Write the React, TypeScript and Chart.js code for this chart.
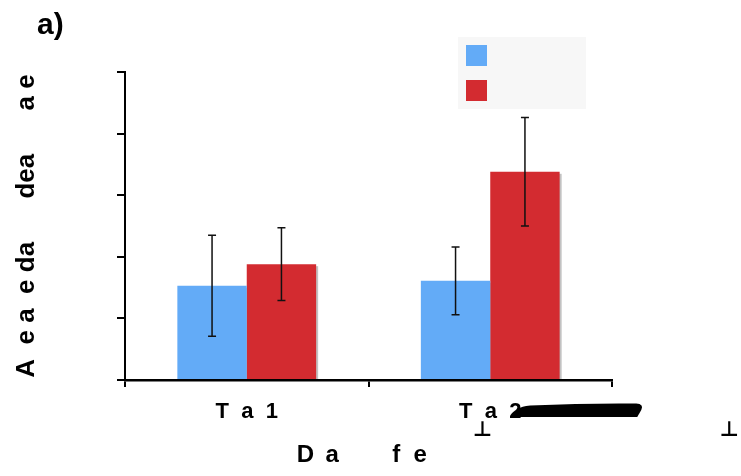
import React, { useEffect, useRef } from "react";
import { Chart, registerables } from "chart.js";

Chart.register(...registerables);

const categories = ["T  a  1", "T  a  2"];
const seriesNames = ["Series A", "Series B"];
const seriesA = [1.53, 1.61];
const seriesB = [1.88, 3.38];
const errorsA = [0.82, 0.55];
const errorsB = [0.59, 0.88];
const yTicks = [0, 1, 2, 3, 4, 5];
const panelLabel = "a)";
const yTitle = "A  e a  e da      dea      a e";
const xTitle = "D\u2009 a        f  e  ";
const strayMarks = ["⊥", "⊥"];

const BLUE = "#63abf7";
const RED = "#d32b30";
const FONT = "'Liberation Sans', Arial, sans-serif";

const decorPlugin = {
  id: "decor",
  beforeDatasetsDraw(chart: any) {
    const ctx = chart.ctx;
    ctx.save();
    ctx.fillStyle = "#c2c2c2";
    chart.data.datasets.forEach((_: any, di: number) => {
      const meta = chart.getDatasetMeta(di);
      meta.data.forEach((el: any) => {
        const w = el.width;
        const left = el.x - w / 2;
        const top = Math.min(el.y, el.base);
        const h = Math.abs(el.base - el.y);
        ctx.fillRect(left + 2, top + 2, w, h - 2);
      });
    });
    ctx.restore();
  },
  afterDatasetsDraw(chart: any) {
    const ctx = chart.ctx;
    const y = chart.scales.y;
    const errs = [errorsA, errorsB];
    ctx.save();
    ctx.strokeStyle = "#111";
    ctx.lineWidth = 1.5;
    chart.data.datasets.forEach((ds: any, di: number) => {
      const meta = chart.getDatasetMeta(di);
      meta.data.forEach((el: any, i: number) => {
        const v = ds.data[i];
        const e = errs[di][i];
        const yt = y.getPixelForValue(v + e);
        const yb = y.getPixelForValue(v - e);
        const x = el.x;
        ctx.beginPath();
        ctx.moveTo(x, yt);
        ctx.lineTo(x, yb);
        ctx.moveTo(x - 4, yt);
        ctx.lineTo(x + 4, yt);
        ctx.moveTo(x - 4, yb);
        ctx.lineTo(x + 4, yb);
        ctx.stroke();
      });
    });
    ctx.restore();
  },
  afterDraw(chart: any) {
    const ctx = chart.ctx;
    const area = chart.chartArea;
    const xs = chart.scales.x;
    ctx.save();
    // panel label
    ctx.fillStyle = "#000";
    ctx.font = `bold 30px ${FONT}`;
    ctx.textBaseline = "alphabetic";
    ctx.textAlign = "left";
    ctx.fillText(panelLabel, 37, 34);

    // legend box
    const lx = area.right - 154;
    const ly = area.top - 35;
    ctx.fillStyle = "#f7f7f7";
    ctx.fillRect(lx, ly, 128, 72);
    chart.data.datasets.forEach((ds: any, i: number) => {
      ctx.fillStyle = ds.backgroundColor;
      ctx.fillRect(lx + 8, ly + 8 + i * 35, 21, 21);
    });

    // stray artefacts below second category label
    const c2 = xs.getPixelForValue(1);
    ctx.fillStyle = "#000";
    ctx.beginPath();
    ctx.moveTo(c2 + 21, area.bottom + 37);
    ctx.lineTo(c2 + 28, area.bottom + 29);
    ctx.quadraticCurveTo(c2 + 31, area.bottom + 26, c2 + 40, area.bottom + 25.5);
    ctx.quadraticCurveTo(c2 + 95, area.bottom + 23, c2 + 146, area.bottom + 23.5);
    ctx.quadraticCurveTo(c2 + 154, area.bottom + 24, c2 + 151, area.bottom + 30);
    ctx.lineTo(c2 + 147, area.bottom + 37);
    ctx.closePath();
    ctx.fill();

    ctx.font = `bold 21px 'DejaVu Sans', sans-serif`;
    ctx.textAlign = "center";
    ctx.textBaseline = "alphabetic";
    ctx.fillText(strayMarks[0], c2 - 8, area.bottom + 56);
    ctx.fillText(strayMarks[1], area.right + 117, area.bottom + 56);
    ctx.restore();
  },
};

export default function App() {
  const ref = useRef<HTMLCanvasElement | null>(null);
  useEffect(() => {
    if (!ref.current) return;
    const chart = new Chart(ref.current, {
      type: "bar",
      data: {
        labels: categories,
        datasets: [
          {
            label: seriesNames[0],
            data: seriesA,
            backgroundColor: BLUE,
            categoryPercentage: 0.57,
            barPercentage: 1.0,
          },
          {
            label: seriesNames[1],
            data: seriesB,
            backgroundColor: RED,
            categoryPercentage: 0.57,
            barPercentage: 1.0,
          },
        ],
      },
      options: {
        animation: false,
        responsive: false,
        devicePixelRatio: 1,
        layout: { padding: { left: 0, top: 72, right: 129, bottom: 0 } },
        plugins: {
          legend: { display: false },
          tooltip: { enabled: false },
        },
        scales: {
          x: {
            offset: true,
            grid: {
              offset: true,
              drawOnChartArea: false,
              drawTicks: true,
              tickLength: 7,
              color: "#000",
              lineWidth: 2,
            },
            border: { display: true, color: "#000", width: 2.5 },
            ticks: {
              color: "#000",
              font: { family: FONT, size: 22, weight: "bold" },
              padding: 12,
            },
            title: {
              display: true,
              text: xTitle,
              color: "#000",
              font: { family: FONT, size: 24, weight: "bold" },
              padding: { top: 0, bottom: 6 },
            },
            afterFit(s: any) {
              s.height = 96;
            },
          },
          y: {
            min: 0,
            max: 5,
            afterBuildTicks(s: any) {
              s.ticks = yTicks.map((v) => ({ value: v }));
            },
            grid: {
              drawOnChartArea: false,
              drawTicks: true,
              tickLength: 8,
              color: "#000",
              lineWidth: 2,
            },
            border: { display: true, color: "#000", width: 2 },
            ticks: { display: false },
            title: {
              display: true,
              text: yTitle,
              color: "#000",
              font: { family: FONT, size: 26, weight: "bold" },
              padding: { top: 11, bottom: 0 },
            },
            afterFit(s: any) {
              s.width = 125;
            },
          },
        },
      },
      plugins: [decorPlugin],
    } as any);
    return () => chart.destroy();
  }, []);
  return (
    <div style={{ position: "absolute", left: 0, top: 0, width: 741, height: 476, background: "#fff" }}>
      <canvas ref={ref} width={741} height={476} style={{ display: "block" }} />
    </div>
  );
}
